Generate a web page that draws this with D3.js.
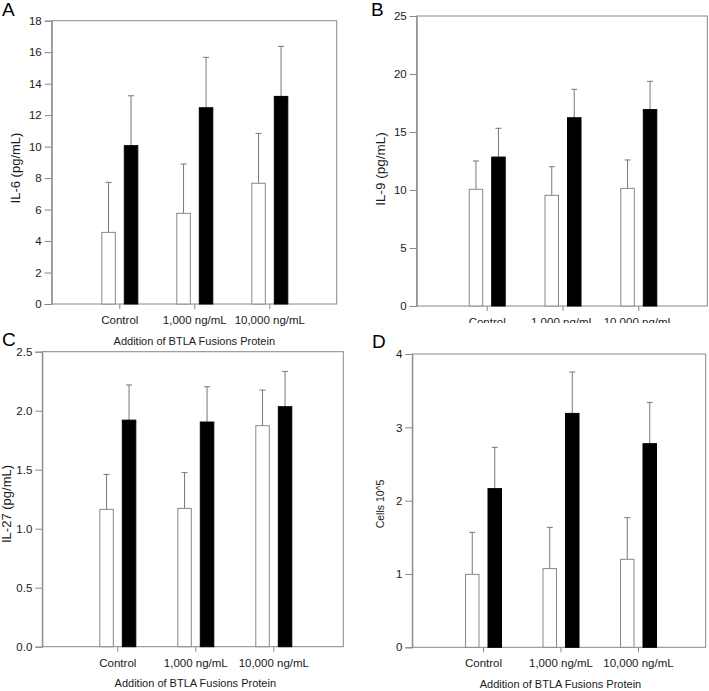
<!DOCTYPE html>
<html>
<head>
<meta charset="utf-8">
<script src="https://cdn.jsdelivr.net/npm/d3@7"></script>
<style>
  html, body { margin: 0; padding: 0; background: #fff; }
  svg { display: block; font-family: "Liberation Sans", Arial, sans-serif; }
</style>
</head>
<body>
<svg id="chart" width="709" height="691"></svg>
<script>
// ---- data ----
const categories = ["Control", "1,000 ng/mL", "10,000 ng/mL"];
const xTitle = "Addition of BTLA Fusions Protein";

const il6Open = [4.55, 5.76, 7.67];
const il6OpenErr = [3.18, 3.13, 3.17];
const il6Filled = [10.06, 12.47, 13.19];
const il6FilledErr = [3.17, 3.20, 3.18];
const il6Ticks = [0, 2, 4, 6, 8, 10, 12, 14, 16, 18];

const il9Open = [10.06, 9.54, 10.14];
const il9OpenErr = [2.44, 2.47, 2.45];
const il9Filled = [12.84, 16.23, 16.93];
const il9FilledErr = [2.48, 2.45, 2.44];
const il9Ticks = [0, 5, 10, 15, 20, 25];

const il27Open = [1.164, 1.172, 1.873];
const il27OpenErr = [0.296, 0.303, 0.302];
const il27Filled = [1.92, 1.904, 2.034];
const il27FilledErr = [0.298, 0.299, 0.299];
const il27Ticks = [0, 0.5, 1.0, 1.5, 2.0, 2.5];

const cellsOpen = [0.995, 1.073, 1.20];
const cellsOpenErr = [0.573, 0.563, 0.568];
const cellsFilled = [2.164, 3.19, 2.777];
const cellsFilledErr = [0.563, 0.565, 0.563];
const cellsTicks = [0, 1, 2, 3, 4];

// ---- layout ----
const panels = [
  { letter: "A", yTitle: "IL-6 (pg/mL)", open: il6Open, openErr: il6OpenErr, filled: il6Filled, filledErr: il6FilledErr,
    ticks: il6Ticks, fmt: d3.format("d"),
    left: 51.7, right: 336.7, top: 20.7, bottom: 304, first: 119.3, last: 269.3,
    yTitleX: 20, yTitleY: 168, yTitleSize: 13, letterX: 2, letterY: 16 },
  { letter: "B", yTitle: "IL-9 (pg/mL)", open: il9Open, openErr: il9OpenErr, filled: il9Filled, filledErr: il9FilledErr,
    ticks: il9Ticks, fmt: d3.format("d"),
    left: 416.7, right: 707.3, top: 16, bottom: 306, first: 486.7, last: 638.3,
    yTitleX: 385, yTitleY: 169, yTitleSize: 13.5, letterX: 371, letterY: 16 },
  { letter: "C", yTitle: "IL-27 (pg/mL)", open: il27Open, openErr: il27OpenErr, filled: il27Filled, filledErr: il27FilledErr,
    ticks: il27Ticks, fmt: d3.format(".1f"),
    left: 42.3, right: 343.3, top: 351.7, bottom: 646.7, first: 117.3, last: 273.3,
    yTitleX: 11, yTitleY: 504, yTitleSize: 13, letterX: 2, letterY: 346 },
  { letter: "D", yTitle: "Cells 10^5", open: cellsOpen, openErr: cellsOpenErr, filled: cellsFilled, filledErr: cellsFilledErr,
    ticks: cellsTicks, fmt: d3.format("d"),
    left: 412.3, right: 705.7, top: 354, bottom: 647.3, first: 483, last: 638,
    yTitleX: 384, yTitleY: 504, yTitleSize: 10.5, letterX: 372, letterY: 348 }
];

const svg = d3.select("#chart");
const frameColor = "#888";
const errColor = "#777";
const textColor = "#1a1a1a";

function drawPanel(p) {
  const g = svg.append("g");
  const y = d3.scaleLinear().domain([p.ticks[0], p.ticks[p.ticks.length - 1]]).range([p.bottom, p.top]);
  const x = d3.scaleLinear().domain([0, categories.length - 1]).range([p.first, p.last]);
  const inner = d3.scaleBand().domain(["open", "filled"]).range([-17.5, 18.5]).paddingInner(0.4);

  g.append("rect").attr("x", p.left).attr("y", p.top)
    .attr("width", p.right - p.left).attr("height", p.bottom - p.top)
    .attr("fill", "none").attr("stroke", frameColor).attr("stroke-width", 1);

  const yAxis = d3.axisLeft(y).tickValues(p.ticks).tickFormat(p.fmt).tickSize(7).tickPadding(3);
  const ya = g.append("g").attr("transform", `translate(${p.left},0)`).call(yAxis);
  ya.select(".domain").attr("stroke", frameColor);
  ya.selectAll(".tick line").attr("stroke", frameColor);
  ya.selectAll(".tick text").attr("fill", textColor).style("font-size", "11.5px");

  const xAxis = d3.axisBottom(x).tickValues(categories.map((c, i) => i))
    .tickFormat(i => categories[i]).tickSize(5).tickPadding(7);
  const xa = g.append("g").attr("transform", `translate(0,${p.bottom})`).call(xAxis);
  xa.select(".domain").remove();
  xa.selectAll(".tick line").attr("stroke", frameColor);
  xa.selectAll(".tick text").attr("fill", textColor).style("font-size", "11.5px");

  const rows = categories.map((c, i) => ({ i, open: p.open[i], openErr: p.openErr[i], filled: p.filled[i], filledErr: p.filledErr[i] }));
  const series = [
    { key: "open", fill: "#fff", stroke: frameColor },
    { key: "filled", fill: "#000", stroke: "#000" }
  ];
  series.forEach(s => {
    const cx = d => x(d.i) + inner(s.key) + inner.bandwidth() / 2;
    g.selectAll(null).data(rows).enter().append("line")
      .attr("x1", cx).attr("x2", cx)
      .attr("y1", d => y(d[s.key]))
      .attr("y2", d => y(d[s.key] + d[s.key + "Err"]))
      .attr("stroke", errColor).attr("stroke-width", 1);
    g.selectAll(null).data(rows).enter().append("line")
      .attr("x1", d => cx(d) - 3).attr("x2", d => cx(d) + 3)
      .attr("y1", d => y(d[s.key] + d[s.key + "Err"]))
      .attr("y2", d => y(d[s.key] + d[s.key + "Err"]))
      .attr("stroke", errColor).attr("stroke-width", 1);
    g.selectAll(null).data(rows).enter().append("rect")
      .attr("x", d => x(d.i) + inner(s.key))
      .attr("y", d => y(d[s.key]))
      .attr("width", inner.bandwidth())
      .attr("height", d => y(0) - y(d[s.key]))
      .attr("fill", s.fill).attr("stroke", s.stroke).attr("stroke-width", 1);
  });

  g.append("text")
    .attr("transform", `translate(${p.yTitleX},${p.yTitleY}) rotate(-90)`)
    .attr("text-anchor", "middle").attr("fill", textColor)
    .style("font-size", p.yTitleSize + "px").text(p.yTitle);

  g.append("text")
    .attr("x", (p.first + p.last) / 2).attr("y", p.bottom + 40.5)
    .attr("text-anchor", "middle").attr("fill", textColor)
    .style("font-size", "11px").text(xTitle);

  g.append("text").attr("x", p.letterX).attr("y", p.letterY)
    .attr("fill", "#000").style("font-size", "19px").text(p.letter);
}

drawPanel(panels[0]);
drawPanel(panels[1]);
// panel D sits on top of panel B's lower edge
svg.append("rect").attr("x", 355).attr("y", 323).attr("width", 354).attr("height", 368).attr("fill", "#fff");
drawPanel(panels[2]);
drawPanel(panels[3]);
</script>
</body>
</html>
